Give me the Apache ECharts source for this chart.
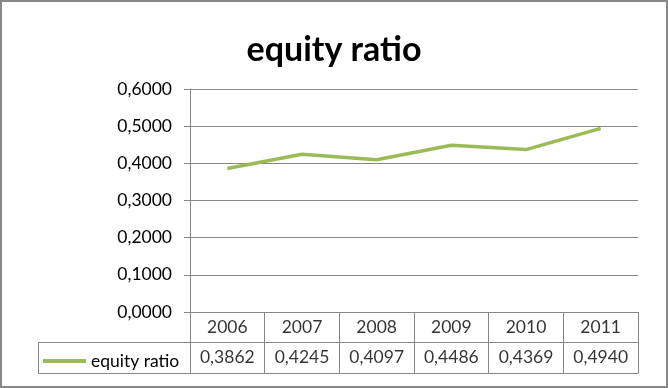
<!DOCTYPE html>
<html><head><meta charset="utf-8">
<script src="https://cdn.jsdelivr.net/npm/echarts@6/dist/echarts.min.js"></script>
<style>html,body{margin:0;padding:0;background:#fff}#c{width:668px;height:388px}</style>
</head><body><div id="c"></div>
<script>
const years = ['2006','2007','2008','2009','2010','2011'];
const equityRatio = [0.3862, 0.4245, 0.4097, 0.4486, 0.4369, 0.4940];
const seriesName = 'equity ratio';
const fmt = v => v.toFixed(4).replace('.', ',');
const FONT = 'Lato';
const FS = 17.5;
const GRID = '#868686';
const chart = echarts.init(document.getElementById('c'), null, {renderer:'canvas'});
chart.setOption({
  animation:false,
  backgroundColor:'#fff',
  title:{text:'equity ratio', left:'center', top:28, textStyle:{fontFamily:FONT, fontSize:34, fontWeight:'bold', color:'#000'}},
  legend:{data:[{name:seriesName, icon:'rect'}], left:38, top:347, itemWidth:43, itemHeight:4, itemGap:0,
    textStyle:{fontFamily:FONT, fontSize:FS, color:'#000', padding:[0,0,0,0]}},
  grid:[
    {left:190, right:30, top:89, height:223},
    {left:190, right:30, top:312, height:61}
  ],
  xAxis:[
    {gridIndex:0, type:'category', data:years, boundaryGap:true,
     axisLine:{show:false}, axisTick:{show:false}, axisLabel:{show:false}, splitLine:{show:false}},
    {gridIndex:1, type:'category', data:years, boundaryGap:true,
     axisLine:{show:true, lineStyle:{color:GRID}}, axisTick:{show:false}, axisLabel:{show:false},
     splitLine:{show:true, lineStyle:{color:GRID}}}
  ],
  yAxis:[
    {gridIndex:0, type:'value', min:0, max:0.6, interval:0.1,
     axisLine:{show:true, lineStyle:{color:GRID}}, axisTick:{show:true, length:6, inside:false, lineStyle:{color:GRID}},
     axisLabel:{formatter:fmt, fontFamily:FONT, fontSize:FS, color:'#000', margin:18},
     splitLine:{show:true, lineStyle:{color:GRID}}},
    {gridIndex:1, type:'value', min:0, max:2, interval:1,
     axisLine:{show:true, lineStyle:{color:GRID}}, axisTick:{show:false}, axisLabel:{show:false},
     splitLine:{show:true, lineStyle:{color:GRID}}}
  ],
  series:[
    {name:seriesName, type:'line', xAxisIndex:0, yAxisIndex:0, data:equityRatio, symbol:'none',
     lineStyle:{color:'#9BBB59', width:3.5}, itemStyle:{color:'#9BBB59'}},
    {type:'scatter', xAxisIndex:1, yAxisIndex:1, symbolSize:0, silent:true,
     data:years.map((y,i)=>[i,1.5,y]),
     label:{show:true, position:'inside', formatter:p=>p.data[2], fontFamily:FONT, fontSize:FS, color:'#000'}},
    {type:'scatter', xAxisIndex:1, yAxisIndex:1, symbolSize:0, silent:true,
     data:equityRatio.map((v,i)=>[i,0.5,v]),
     label:{show:true, position:'inside', formatter:p=>fmt(p.data[2]), fontFamily:FONT, fontSize:FS, color:'#000'}}
  ],
  graphic:[
    {type:'line', shape:{x1:38.5,y1:342.5,x2:190,y2:342.5}, style:{stroke:GRID, lineWidth:1}},
    {type:'line', shape:{x1:38.5,y1:373.5,x2:190,y2:373.5}, style:{stroke:GRID, lineWidth:1}},
    {type:'line', shape:{x1:38.5,y1:342.5,x2:38.5,y2:373.5}, style:{stroke:GRID, lineWidth:1}},
    {type:'rect', shape:{x:1,y:1,width:666,height:386}, style:{fill:'none', stroke:'#878787', lineWidth:2}}
  ]
});
</script></body></html>
